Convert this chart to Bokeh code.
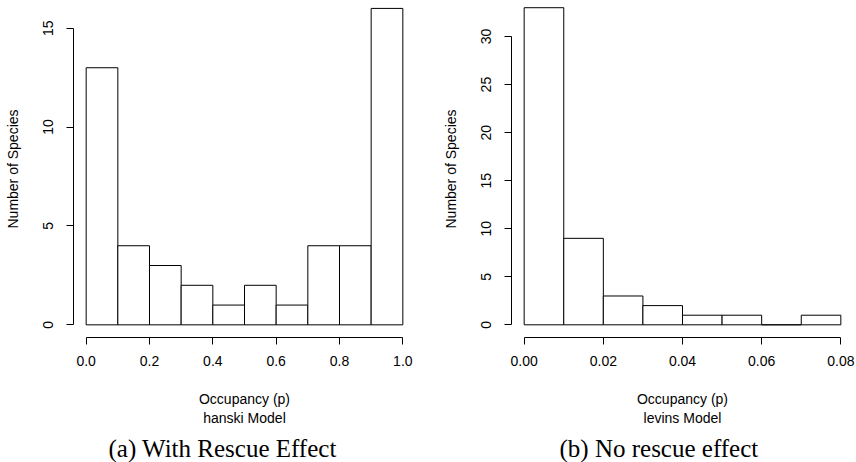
from bokeh.plotting import figure
from bokeh.layouts import row
from bokeh.models import FixedTicker, NumeralTickFormatter, Title, Range1d
from bokeh.embed import file_html
from bokeh.resources import INLINE

# ---- data ----
hanski_breaks = [0.0, 0.1, 0.2, 0.3, 0.4, 0.5, 0.6, 0.7, 0.8, 0.9, 1.0]
hanski_counts = [13, 4, 3, 2, 1, 2, 1, 4, 4, 16]
hanski_xticks = [0.0, 0.2, 0.4, 0.6, 0.8, 1.0]
hanski_yticks = [0, 5, 10, 15]

levins_breaks = [0.00, 0.01, 0.02, 0.03, 0.04, 0.05, 0.06, 0.07, 0.08]
levins_counts = [33, 9, 3, 2, 1, 1, 0, 1]
levins_xticks = [0.00, 0.02, 0.04, 0.06, 0.08]
levins_yticks = [0, 5, 10, 15, 20, 25, 30]

SANS = "Liberation Sans"
SERIF = "Liberation Serif"


def panel(breaks, counts, xticks, yticks, xfmt, model, caption, x_range, y_range,
          border_left, border_right, cap_offset):
    p = figure(width=border_left + 342 + border_right, height=462,
               frame_width=342, frame_height=337,
               x_range=Range1d(*x_range), y_range=Range1d(*y_range),
               output_backend="svg", toolbar_location=None,
               min_border_left=border_left, min_border_right=border_right,
               min_border_top=0, min_border_bottom=125)
    p.outline_line_color = None
    p.xgrid.visible = False
    p.ygrid.visible = False
    p.background_fill_color = "white"
    p.border_fill_color = "white"

    p.quad(left=breaks[:-1], right=breaks[1:], bottom=0, top=counts,
           fill_color="white", line_color="black", line_width=1)

    xa = p.xaxis[0]
    xa.ticker = FixedTicker(ticks=xticks)
    xa.formatter = NumeralTickFormatter(format=xfmt)
    xa.bounds = (xticks[0], xticks[-1])
    xa.axis_label = "Occupancy (p)\n" + model + " Model"

    ya = p.yaxis[0]
    ya.ticker = FixedTicker(ticks=yticks)
    ya.bounds = (yticks[0], yticks[-1])
    ya.axis_label = "Number of Species"
    ya.major_label_orientation = "vertical"

    for ax in (xa, ya):
        ax.axis_line_color = "black"
        ax.major_tick_line_color = "black"
        ax.minor_tick_line_color = None
        ax.major_tick_out = 7
        ax.major_tick_in = 0
        ax.major_label_text_font = SANS
        ax.major_label_text_font_size = "14px"
        ax.major_label_text_color = "black"
        ax.axis_label_text_font = SANS
        ax.axis_label_text_font_size = "14px"
        ax.axis_label_text_font_style = "normal"
        ax.axis_label_text_color = "black"
    xa.major_label_standoff = 11
    xa.axis_label_standoff = 22
    ya.major_label_standoff = 13
    ya.axis_label_standoff = 20

    p.add_layout(Title(text=caption, align="left", offset=cap_offset,
                       text_font=SERIF, text_font_size="25px",
                       text_font_style="normal", text_color="black",
                       standoff=8), "below")
    return p


p1 = panel(hanski_breaks, hanski_counts, hanski_xticks, hanski_yticks, "0.0",
           "hanski", "(a) With Rescue Effect", (-0.04, 1.04), (-0.64, 16.40),
           73, 13, 35)
p2 = panel(levins_breaks, levins_counts, levins_xticks, levins_yticks, "0.00",
           "levins", "(b) No rescue effect", (-0.0032, 0.0832), (-1.32, 33.75),
           83, 3, 48)

layout = row(p1, p2)
open("out.html", "w").write(file_html(layout, INLINE))
